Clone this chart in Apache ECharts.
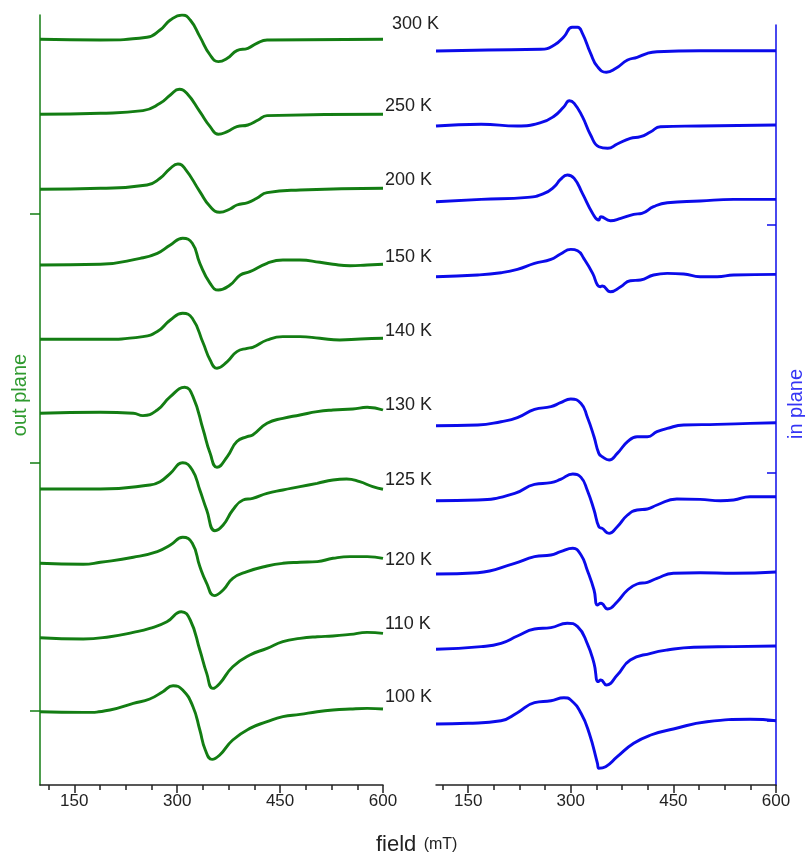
<!DOCTYPE html>
<html>
<head>
<meta charset="utf-8">
<script src="https://cdn.jsdelivr.net/npm/echarts@6/dist/echarts.min.js"></script>
<style>html,body{margin:0;padding:0;background:#fff}#c{width:805px;height:861px}</style>
</head>
<body>
<div id="c"></div>
<script>
// Temperatures (K)
const temps = [300, 250, 200, 150, 140, 130, 125, 120, 110, 100];
const tempLabels = ['300 K','250 K','200 K','150 K','140 K','130 K','125 K','120 K','110 K','100 K'];
// Vertical offsets of each spectrum (a.u.)
const outOffsets = [671.7, 596.7, 521.7, 446, 371.7, 297.7, 222, 147.7, 73.3, -0.7];
const inOffsets  = [670, 595, 519.3, 444.3, null, 295.3, 220.3, 147, 71.7, -3];
// Axis ticks
const fieldTicks = [150, 300, 450, 600];
const fieldMinor = [112.5, 187.5, 225, 262.5, 337.5, 375, 412.5, 487.5, 525, 562.5];
const outYTicks = [0, 248.5, 497];
const inYTicks = [0, 248, 496];

// Out-of-plane spectra: [field mT, signal a.u.]
const out300 = [[100,0],[188,-0.7],[256,2],[275,9.3],[290,19.3],[307,24.3],[319,19.3],[333,2.7],[348,-15.7],[360,-22.3],[373,-19],[387,-11.3],[403,-9],[416,-4],[431,-0.7],[600,0]];
const out250 = [[100,0],[188,1],[250,3.7],[275,11],[290,19.3],[303,25],[314,21],[333,2.7],[348,-12.3],[360,-20],[373,-17.3],[387,-12.3],[403,-10.7],[418,-5.7],[431,-1.3],[600,0]];
const out200 = [[100,0],[188,1],[256,4.3],[275,11],[290,21],[301,25.3],[311,21],[333,-2.3],[348,-17.3],[362,-23],[377,-19.7],[387,-15.7],[403,-13.3],[416,-9],[431,-3.3],[479,-0.7],[600,1]];
const out150 = [[100,0],[188,0.7],[246,6.7],[271,11.7],[290,20],[308,26.7],[322,21.7],[333,1.7],[348,-18.3],[360,-25],[377,-20],[392,-10],[406,-6.7],[431,1.7],[454,5],[479,5],[508,2.7],[527,0.7],[552,-0.7],[577,0],[600,0.7]];
const out140 = [[100,0],[188,0],[250,2.7],[271,7.7],[290,19.3],[308,26],[322,21],[338,-4],[348,-20.7],[358,-29],[373,-22.3],[387,-12.3],[402,-9],[410,-8],[431,-0.7],[454,2.7],[479,2.7],[508,1],[537,-0.7],[567,0.3],[600,1]];
const out130 = [[100,0],[188,1],[236,0],[250,-2.3],[271,3.3],[290,16.7],[311,26],[323,16.7],[338,-16.7],[348,-40],[358,-54],[373,-43.3],[387,-28.3],[402,-23.3],[410,-21.7],[431,-10],[454,-5],[479,-1.7],[504,1.7],[527,3.3],[556,4.3],[577,6],[600,3.3]];
const out125 = [[100,0],[188,0],[260,4],[275,7.3],[290,15.7],[308,26.3],[322,19],[333,-1],[343,-21],[355,-41.7],[367,-36],[381,-21],[396,-11],[410,-9.3],[431,-4.3],[454,-1],[479,2.3],[504,5.7],[527,9],[547,10],[566,7.3],[585,2.3],[600,-0.3]];
const out120 = [[100,0],[163,-1],[188,1],[236,6],[271,11.7],[290,18.3],[308,26],[322,20],[333,-3.3],[343,-20],[354,-32.3],[367,-26.7],[381,-15],[402,-8.3],[431,-2.7],[454,0],[479,1],[504,1.7],[527,5],[552,6.7],[577,6.7],[600,5]];
const out110 = [[100,0],[163,-1.3],[202,1],[236,5.3],[260,9.3],[285,16],[306,26],[319,17.7],[333,-12.3],[343,-35.7],[352,-50.7],[362,-45.7],[381,-29],[406,-17.3],[431,-10.7],[454,-4],[479,-0.7],[504,1],[527,1.7],[552,3.3],[577,5.3],[600,4.3]];
const out100 = [[100,0],[163,-0.7],[202,1.7],[236,8.3],[260,12.7],[279,20],[294,26],[308,21.7],[323,5],[333,-18.3],[341,-38.3],[351,-47.7],[362,-43.3],[381,-28.3],[406,-16.7],[431,-10],[454,-5],[479,-2.7],[504,0],[527,1.7],[552,2.7],[577,3.3],[600,2.7]];

// In-plane spectra: [field mT, signal a.u.]
const in300 = [[103,0],[179,1],[256,1.7],[276,6],[290,14.3],[302,23.7],[310,23.7],[317,17.7],[329,-2.3],[339,-15.7],[352,-21.3],[366,-17.3],[383,-9],[397,-6.3],[412,-2.3],[426,-0.7],[489,0.3],[600,0.3]];
const in250 = [[103,0],[169,1.7],[222,0],[256,3.3],[276,10],[290,19.3],[298,25.3],[305,22.7],[317,9.3],[329,-9],[341,-20.7],[354,-22.3],[368,-18],[387,-12.3],[402,-10.7],[417,-5.7],[431,-0.7],[489,0],[600,1]];
const in200 = [[103,0],[169,2.3],[237,4.3],[261,8.3],[276,15],[285,22.3],[295,26.7],[305,23.3],[317,8.3],[332,-11.7],[341,-18.3],[344,-15],[358,-19],[373,-16.7],[392,-12.7],[404,-11.7],[421,-5],[441,-1],[489,0.7],[538,2.3],[600,2.3]];
const in150 = [[103,0],[164,1.7],[198,4],[222,7.3],[247,13.3],[271,17.3],[285,22.7],[300,27.3],[310,26],[319,18.3],[332,3.3],[339,-8.3],[343,-10],[346,-9.3],[358,-15],[373,-10],[387,-4],[402,-3.3],[421,1.7],[441,3.3],[465,2.7],[489,0],[514,0],[538,1.7],[600,2.3]];
const in130 = [[103,0],[164,0.7],[198,4],[222,8],[247,16.3],[271,19],[285,23],[300,26.7],[315,22.3],[324,9],[334,-11],[341,-27.7],[346,-31],[356,-34.3],[368,-27.7],[383,-16],[397,-11],[412,-11],[426,-6],[441,-2.7],[465,0.7],[514,1.3],[562,2.3],[600,3]];
const in125 = [[103,0],[164,0.7],[218,7.3],[247,16.3],[271,18],[285,21.3],[303,26.7],[315,23.3],[324,10.7],[334,-9.3],[341,-26],[346,-27.7],[356,-32.7],[368,-26],[383,-14.3],[397,-9.3],[412,-8.3],[426,-4.3],[455,1.7],[489,1.3],[519,0],[538,0.7],[562,4],[600,4]];
const in120 = [[103,0],[164,1.3],[218,10.7],[247,17.3],[271,19],[285,22.3],[303,25.7],[315,19],[324,4],[334,-16],[339,-31],[344,-29.3],[354,-35],[368,-27.7],[383,-16],[397,-10],[412,-8.3],[426,-4.3],[450,0.7],[489,1.3],[538,0.7],[600,2]];
const in110 = [[103,0],[169,2.7],[198,6],[222,13.3],[247,20.3],[271,21.7],[295,26],[310,22.7],[324,6],[334,-14],[340,-32.3],[344,-30.7],[352,-35.7],[368,-25.7],[387,-10.7],[417,-4],[441,-0.7],[480,2],[538,2.7],[600,3.3]];
const in100 = [[103,0],[150,0.7],[198,3.3],[222,11.3],[247,21.3],[271,23.3],[290,26.3],[300,24],[315,10.7],[327,-9.3],[339,-39.3],[341,-44.3],[351,-42.7],[368,-32.7],[392,-19.3],[417,-11],[450,-5],[499,2.3],[562,4.7],[600,3.3]];

const outSpectra = [out300, out250, out200, out150, out140, out130, out125, out120, out110, out100];
const inSpectra  = [in300, in250, in200, in150, null, in130, in125, in120, in110, in100];

const GREEN = '#137d13';
const BLUE = '#0b0bea';
const labelY = [25, 107, 181, 258, 332, 406, 481, 561, 625, 698];
const labelX = [392, 385, 385, 385, 385, 385, 385, 385, 385, 385];

const series = [];
temps.forEach((t, i) => {
  series.push({
    name: 'out ' + t, type: 'line', xAxisIndex: 0, yAxisIndex: 0,
    data: outSpectra[i].map(p => [p[0], p[1] + outOffsets[i]]),
    showSymbol: false, smooth: 0.5, silent: true,
    lineStyle: { color: GREEN, width: 2.9 }
  });
  if (inSpectra[i]) {
    series.push({
      name: 'in ' + t, type: 'line', xAxisIndex: 2, yAxisIndex: 1,
      data: inSpectra[i].map(p => [p[0], p[1] + inOffsets[i]]),
      showSymbol: false, smooth: 0.5, silent: true,
      lineStyle: { color: BLUE, width: 2.9 }
    });
  }
});

const FONT = 'Liberation Sans, Arial, sans-serif';
const mainX = (grid, min) => ({
  type: 'value', gridIndex: grid, min: min, max: 600, position: 'bottom',
  axisLine: { show: true, onZero: false, lineStyle: { color: '#222', width: 1.5 } },
  axisTick: { show: true, length: 8, customValues: fieldTicks, lineStyle: { color: '#222', width: 1.5 } },
  axisLabel: { show: true, customValues: fieldTicks, color: '#222', fontSize: 17, margin: 8, fontFamily: FONT },
  splitLine: { show: false }
});
const minorX = (grid, min) => ({
  type: 'value', gridIndex: grid, min: min, max: 600, position: 'bottom',
  axisLine: { show: false, onZero: false },
  axisTick: { show: true, length: 5, customValues: fieldMinor, lineStyle: { color: '#222', width: 1.5 } },
  axisLabel: { show: false },
  splitLine: { show: false }
});

const graphics = tempLabels.map((s, i) => ({
  type: 'text', left: labelX[i], top: labelY[i] - 10,
  style: { text: s, fill: '#222', font: '18px "Liberation Sans", Arial, sans-serif' }
}));
graphics.push({
  type: 'text', x: 20, y: 395, rotation: Math.PI / 2,
  style: { text: 'out plane', fill: '#2f9a2f', font: '20px "Liberation Sans", Arial, sans-serif', align: 'center', verticalAlign: 'middle' }
});
graphics.push({
  type: 'text', x: 796, y: 404, rotation: Math.PI / 2,
  style: { text: 'in plane', fill: '#3535f5', font: '20px "Liberation Sans", Arial, sans-serif', align: 'center', verticalAlign: 'middle' }
});
graphics.push({
  type: 'text', x: 376, y: 856,
  style: {
    text: '{a|field} {b|(mT)}', fill: '#222',
    rich: {
      a: { fontSize: 22, fontFamily: FONT, fill: '#222' },
      b: { fontSize: 16, fontFamily: FONT, fill: '#222', padding: [0, 0, 0, 4] }
    },
    verticalAlign: 'bottom'
  }
});

const chart = echarts.init(document.getElementById('c'), null, { renderer: 'canvas' });
chart.setOption({
  animation: false,
  backgroundColor: '#fff',
  grid: [
    { left: 40, top: 15, width: 343, height: 770 },
    { left: 436, top: 25, width: 340, height: 760 }
  ],
  xAxis: [mainX(0, 100), minorX(0, 100), mainX(1, 103), minorX(1, 103)],
  yAxis: [
    {
      type: 'value', gridIndex: 0, min: -74, max: 696, position: 'left',
      axisLine: { show: true, onZero: false, lineStyle: { color: GREEN, width: 1.5 } },
      axisTick: { show: true, inside: false, length: 10, customValues: outYTicks, lineStyle: { color: GREEN, width: 1.5 } },
      axisLabel: { show: false }, splitLine: { show: false }
    },
    {
      type: 'value', gridIndex: 1, min: -64, max: 696, position: 'right',
      axisLine: { show: true, onZero: false, lineStyle: { color: BLUE, width: 1.5 } },
      axisTick: { show: true, inside: true, length: 9, customValues: inYTicks, lineStyle: { color: BLUE, width: 1.5 } },
      axisLabel: { show: false }, splitLine: { show: false }
    }
  ],
  series: series,
  graphic: graphics
});
</script>
</body>
</html>
